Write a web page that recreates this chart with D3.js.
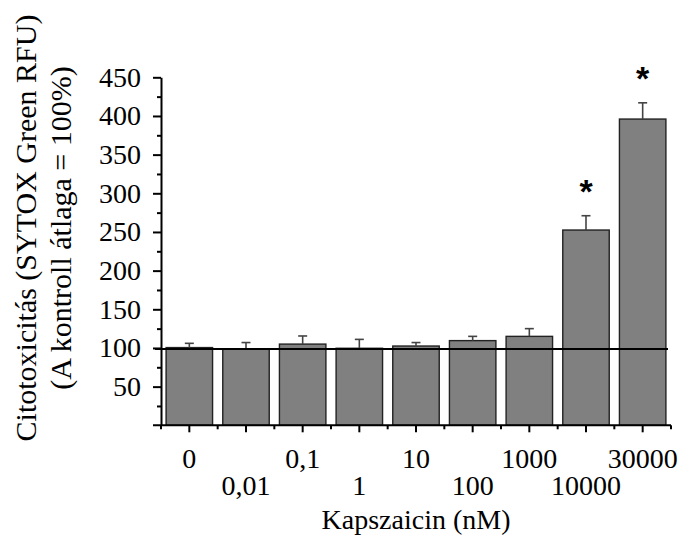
<!DOCTYPE html>
<html>
<head>
<meta charset="utf-8">
<script src="https://cdn.jsdelivr.net/npm/d3@7"></script>
<style>
  body { margin: 0; background: #fff; }
  svg { display: block; }
  text { font-family: "Liberation Serif", "Times New Roman", serif; fill: #000; }
</style>
</head>
<body>
<svg width="684" height="539"></svg>
<script>
// data
var categories = ["0", "0,01", "0,1", "1", "10", "100", "1000", "10000", "30000"];
var means = [100.5, 99, 105, 99.6, 102.5, 109.5, 115, 252.5, 396];
var errors = [5.5, 8, 10.5, 11.5, 4.5, 5.5, 10, 18.5, 21];
var significant = [false, false, false, false, false, false, false, true, true];
var yMajorTicks = [50, 100, 150, 200, 250, 300, 350, 400, 450];
var yMinorTicks = [25, 75, 125, 175, 225, 275, 325, 375, 425];

var svg = d3.select("svg");

var plotLeft = 161, plotRight = 671, plotTop = 77.3, plotBottom = 425.3;

var x = d3.scaleBand()
  .domain(categories)
  .range([plotLeft, plotRight])
  .paddingInner(0.18)
  .paddingOuter(0.09);

var y = d3.scaleLinear()
  .domain([0, 450])
  .range([plotBottom, plotTop]);

// bars
svg.selectAll("rect.bar")
  .data(means)
  .enter()
  .append("rect")
    .attr("class", "bar")
    .attr("x", function(d, i) { return x(categories[i]); })
    .attr("y", function(d) { return y(d); })
    .attr("width", x.bandwidth())
    .attr("height", function(d) { return y(0) - y(d); })
    .style("fill", "#808080")
    .style("stroke", "#222")
    .style("stroke-width", 1.4);

// upper error bars
var cx = function(i) { return x(categories[i]) + x.bandwidth() / 2; };
var err = svg.append("g").style("stroke", "#444").style("stroke-width", 1.6);
means.forEach(function(m, i) {
  err.append("line")
    .attr("x1", cx(i)).attr("x2", cx(i))
    .attr("y1", y(m)).attr("y2", y(m + errors[i]));
  err.append("line")
    .attr("x1", cx(i) - 4.5).attr("x2", cx(i) + 4.5)
    .attr("y1", y(m + errors[i])).attr("y2", y(m + errors[i]));
});

// significance stars
var starIdx = d3.range(means.length).filter(function(i) { return significant[i]; });
svg.selectAll("text.star")
  .data(starIdx)
  .enter()
  .append("text")
    .attr("class", "star")
    .attr("x", function(i) { return cx(i); })
    .attr("y", function(i) { return y(means[i] + errors[i]) - 13; })
    .attr("text-anchor", "middle")
    .style("font-family", "'Liberation Sans', Arial, sans-serif")
    .style("font-weight", "bold")
    .style("font-size", "34px")
    .text("*");

// control line (100%)
svg.append("line")
  .attr("x1", 155).attr("x2", plotRight - 3)
  .attr("y1", y(100) + 1).attr("y2", y(100) + 1)
  .style("stroke", "#000")
  .style("stroke-width", 2);

// y axis
var yAxis = svg.append("g")
  .attr("transform", "translate(" + plotLeft + ",0)")
  .call(d3.axisLeft(y).tickValues(yMajorTicks).tickSize(8).tickSizeOuter(0).tickPadding(12)
    .tickFormat(d3.format("d")));
svg.append("g")
  .attr("transform", "translate(" + plotLeft + ",0)")
  .call(d3.axisLeft(y).tickValues(yMinorTicks).tickSize(4).tickSizeOuter(0).tickFormat(""))
  .select(".domain").remove();
yAxis.selectAll("text").style("font-size", "28px").style("font-family", "'Liberation Serif', serif");

// x axis
var xAxis = svg.append("g")
  .attr("transform", "translate(0," + plotBottom + ")")
  .call(d3.axisBottom(x).tickSize(7).tickSizeOuter(0));
xAxis.select(".domain").attr("d", "M153,0H" + plotRight);
xAxis.selectAll("text")
  .style("font-size", "28px")
  .style("font-family", "'Liberation Serif', serif")
  .attr("dy", 0)
  .attr("y", function(d, i) { return i % 2 ? 70 : 43; });

// short ticks between the bars
xAxis.selectAll("line.sep")
  .data(d3.range(categories.length + 1))
  .enter()
  .append("line")
    .attr("class", "sep")
    .attr("x1", function(i) { return plotLeft + i * x.step(); })
    .attr("x2", function(i) { return plotLeft + i * x.step(); })
    .attr("y1", 0).attr("y2", 4)
    .style("stroke", "#000");

svg.selectAll(".domain, .tick line, line.sep").style("stroke", "#000").style("stroke-width", 2);

// axis titles
svg.append("text")
  .attr("x", 416).attr("y", 529)
  .attr("text-anchor", "middle")
  .style("font-size", "28px")
  .text("Kapszaicin (nM)");

svg.append("text")
  .attr("transform", "translate(36,228) rotate(-90)")
  .attr("text-anchor", "middle")
  .style("font-size", "30px")
  .text("Citotoxicitás (SYTOX Green RFU)");

svg.append("text")
  .attr("transform", "translate(71,228) rotate(-90)")
  .attr("text-anchor", "middle")
  .style("font-size", "30px")
  .text("(A kontroll átlaga = 100%)");
</script>
</body>
</html>
